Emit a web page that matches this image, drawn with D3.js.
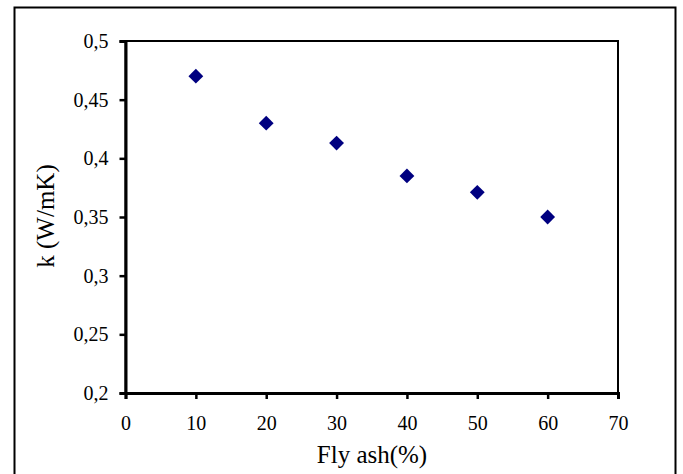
<!DOCTYPE html>
<html>
<head>
<meta charset="utf-8">
<script src="https://cdn.jsdelivr.net/npm/d3@7"></script>
<style>
  body { margin: 0; background: #fff; }
  text { font-family: "Liberation Serif", "Times New Roman", serif; fill: #000; }
</style>
</head>
<body>
<script>
"use strict";
// data
const flyAsh = [10, 20, 30, 40, 50, 60];
const kValues = [0.47, 0.43, 0.413, 0.385, 0.371, 0.35];
const xTicks = [0, 10, 20, 30, 40, 50, 60, 70];
const yTicks = [0.2, 0.25, 0.3, 0.35, 0.4, 0.45, 0.5];

const W = 683, H = 474;
const plot = { left: 125.5, right: 618, top: 41, bottom: 393 };
const serif = '"Liberation Serif", "Times New Roman", serif';

const svg = d3.select("body").append("svg")
    .attr("width", W)
    .attr("height", H);

// outer frame (bottom edge falls off the picture)
svg.append("rect")
    .attr("x", 14.5).attr("y", 7.5)
    .attr("width", 661).attr("height", 480)
    .attr("fill", "none").attr("stroke", "#000").attr("stroke-width", 2);

const x = d3.scaleLinear().domain([0, 70]).range([plot.left, plot.right]);
const y = d3.scaleLinear().domain([0.2, 0.5]).range([plot.bottom, plot.top]);

const comma = d => String(d).replace(".", ",");

// plot area border
svg.append("rect")
    .attr("x", plot.left).attr("y", plot.top)
    .attr("width", plot.right - plot.left).attr("height", plot.bottom - plot.top)
    .attr("fill", "none").attr("stroke", "#000").attr("stroke-width", 2);

const xAxis = svg.append("g")
    .attr("transform", `translate(0,${plot.bottom})`)
    .call(d3.axisBottom(x).tickValues(xTicks).tickSize(6).tickPadding(17).tickFormat(d => d));
const yAxis = svg.append("g")
    .attr("transform", `translate(${plot.left},0)`)
    .call(d3.axisLeft(y).tickValues(yTicks).tickSize(6).tickPadding(11).tickFormat(comma));

[xAxis, yAxis].forEach(g => {
    g.attr("font-family", serif).attr("font-size", 20);
    g.select(".domain").attr("stroke-width", 3);
    g.selectAll(".tick line").attr("stroke-width", 2.5);
    g.selectAll(".tick text")
        .style("font-family", serif)
        .style("font-size", "20px");
});

// diamond markers
svg.selectAll(".pt")
    .data(flyAsh.map((d, i) => [d, kValues[i]]))
    .enter()
    .append("path")
    .attr("class", "pt")
    .attr("d", d3.symbol(d3.symbolSquare, 110))
    .attr("transform", d => `translate(${x(d[0])},${y(d[1])}) rotate(45)`)
    .attr("fill", "#000080");

// axis titles
svg.append("text")
    .attr("x", 372).attr("y", 463)
    .attr("text-anchor", "middle")
    .style("font-size", "25px")
    .text("Fly ash(%)");

svg.append("text")
    .attr("transform", "translate(54,216) rotate(-90)")
    .attr("text-anchor", "middle")
    .style("font-size", "25px")
    .text("k (W/mK)");
</script>
</body>
</html>
